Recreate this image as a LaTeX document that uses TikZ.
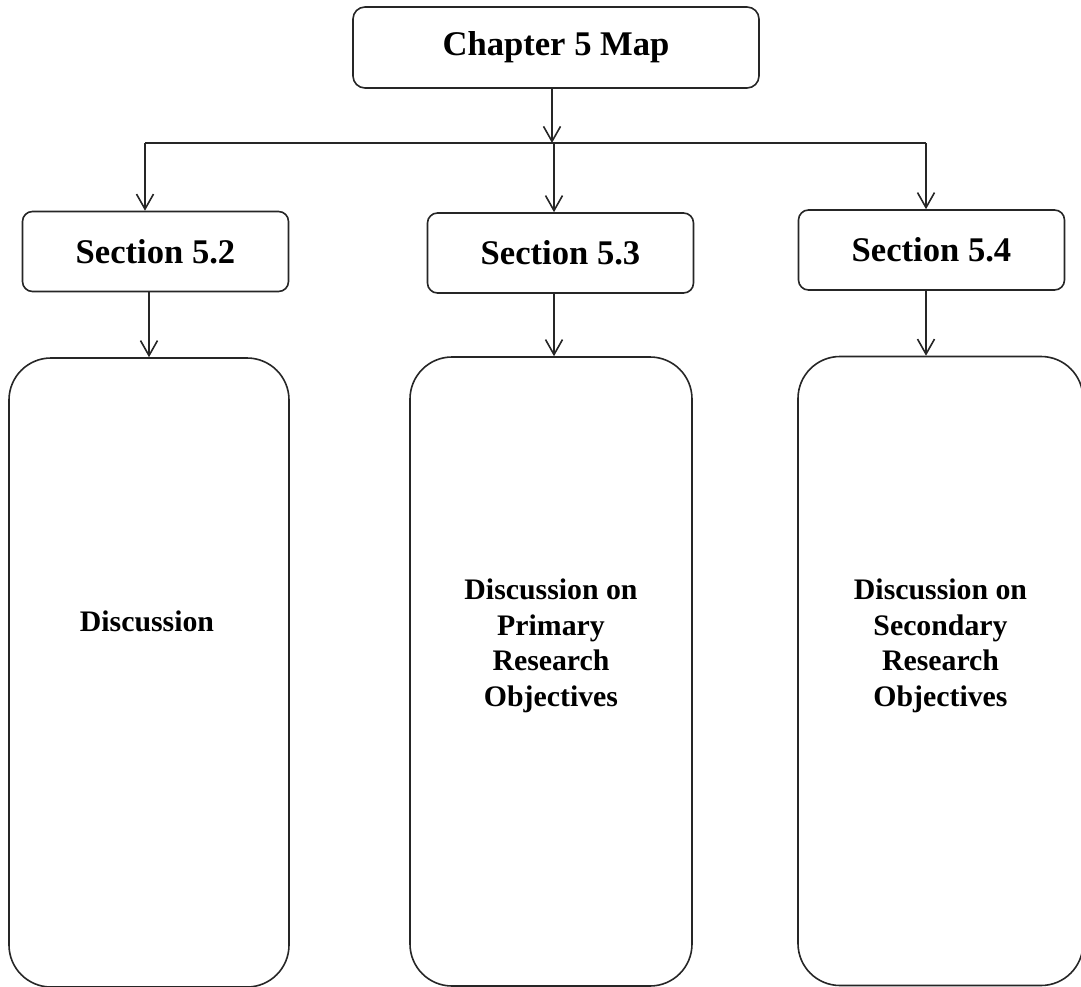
\documentclass[tikz,border=0pt]{standalone}
\usepackage{fontspec}
\setmainfont{Liberation Serif}
\usetikzlibrary{arrows.meta,calc}

\tikzset{
  line/.style={line width=1.6pt, draw=black!85},
  arr/.style={line, -{Straight Barb[length=15pt,width=17pt,line width=1.6pt]}},
  headbox/.style={line, rectangle, rounded corners=12pt, inner sep=0pt,
    font=\bfseries\fontsize{34.6}{40}\selectfont},
  secbox/.style={line, rectangle, rounded corners=10pt, inner sep=0pt,
    minimum width=266pt, minimum height=80pt,
    font=\bfseries\fontsize{34.6}{40}\selectfont},
  bigbox/.style={line, rectangle, rounded corners=42pt, inner sep=0pt,
    minimum height=629pt},
  bodytext/.style={align=center, inner sep=0pt,
    font=\bfseries\fontsize{29.8}{35.5}\selectfont}
}

\begin{document}
\begin{tikzpicture}[x=1pt,y=-1pt]
  \useasboundingbox (0,0) rectangle (1081,987);

  % chapter heading
  \node[headbox, minimum width=406pt, minimum height=81pt] (top) at (556,47.5) {Chapter 5 Map};

  % section headings
  \node[secbox] (s2) at (155.5,251.5) {Section 5.2};
  \node[secbox] (s3) at (560.5,253) {Section 5.3};
  \node[secbox] (s4) at (931.5,250) {Section 5.4};

  % content panels
  \node[bigbox, minimum width=280pt] (b1) at (149,672.5) {};
  \node[bigbox, minimum width=282pt] (b2) at (551,671.5) {};
  \node[bigbox, minimum width=285pt] (b3) at (940.5,671) {};

  \node[bodytext] (t1) at (147,621) {Discussion};
  \node[bodytext] (t2) at (551,646) {Discussion on\\Primary\\Research\\Objectives};
  \node[bodytext] (t3) at (940.5,646) {Discussion on\\Secondary\\Research\\Objectives};

  % branching connectors
  \coordinate (hub) at (552,143);
  \coordinate (hl) at (145,143);
  \coordinate (hm) at (554,143);
  \coordinate (hr) at (926,143);

  \draw[arr] (top.south -| hub) -- (hub);
  \draw[line] (hl) -- (hr);
  \draw[arr] (hl) -- (hl |- s2.north);
  \draw[arr] (hm) -- (hm |- s3.north);
  \draw[arr] (hr) -- (hr |- s4.north);

  % section to panel connectors
  \draw[arr] (s2.south -| b1.north) -- (b1.north);
  \draw[arr] (s3.south -| hm) -- (b2.north -| hm);
  \draw[arr] (s4.south -| hr) -- (b3.north -| hr);
\end{tikzpicture}
\end{document}
